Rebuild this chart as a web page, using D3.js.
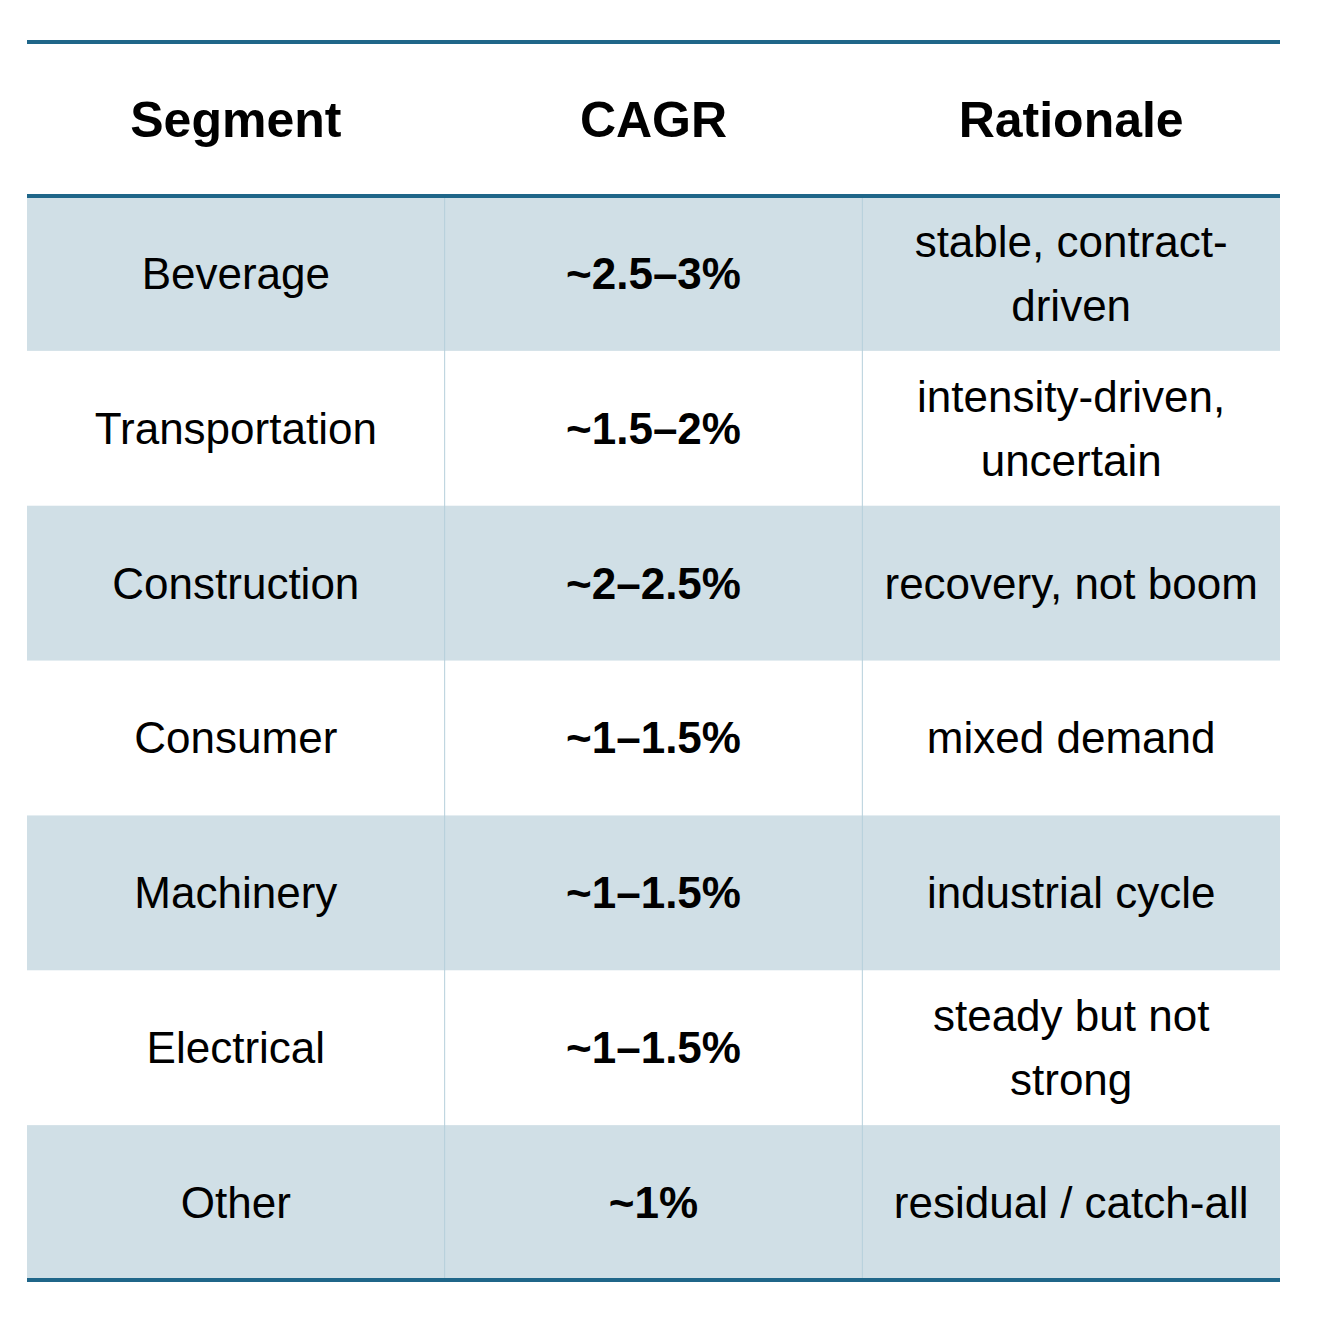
<!DOCTYPE html>
<html><head><meta charset="utf-8">
<script src="https://cdn.jsdelivr.net/npm/d3@7"></script>
<style>body{margin:0;background:#fff}</style>
</head><body><div class="canvas"></div>
<script>
const headers = ['Segment', 'CAGR', 'Rationale'];
const segments = ['Beverage', 'Transportation', 'Construction', 'Consumer', 'Machinery', 'Electrical', 'Other'];
const cagr = ['~2.5–3%', '~1.5–2%', '~2–2.5%', '~1–1.5%', '~1–1.5%', '~1–1.5%', '~1%'];
const rationale = [
    ['stable, contract-', 'driven'],
    ['intensity-driven,', 'uncertain'],
    ['recovery, not boom'],
    ['mixed demand'],
    ['industrial cycle'],
    ['steady but not', 'strong'],
    ['residual / catch-all']
];

const dim = { width: 1322, height: 1322, left: 27, right: 1280, top: 42, head: 196, bottom: 1280 };
const lineColor = '#1f6689';

const svg = d3.select('.canvas').append('svg')
    .attr('width', dim.width)
    .attr('height', dim.height)
    .style('font-family', '"Liberation Sans", Arial, sans-serif');

const x = d3.scaleBand().domain(headers).range([dim.left, dim.right]);
const y = d3.scaleBand().domain(segments).range([dim.head, dim.bottom]);

// shaded rows
svg.selectAll('rect.row')
    .data(segments.filter((d, i) => i % 2 === 0))
    .enter().append('rect')
    .attr('x', dim.left).attr('width', dim.right - dim.left)
    .attr('y', d => y(d)).attr('height', y.bandwidth())
    .attr('fill', '#d0dfe6');

// column separators
svg.selectAll('line.sep')
    .data(headers.slice(1))
    .enter().append('line')
    .attr('x1', d => x(d)).attr('x2', d => x(d))
    .attr('y1', dim.head).attr('y2', dim.bottom)
    .attr('stroke', '#b5cfdb').attr('stroke-width', 1);

// header
svg.selectAll('text.head')
    .data(headers)
    .enter().append('text')
    .attr('x', d => x(d) + x.bandwidth() / 2)
    .attr('y', (dim.top + dim.head) / 2)
    .attr('dy', '0.35em')
    .attr('text-anchor', 'middle')
    .attr('font-size', 50).attr('font-weight', 'bold').attr('fill', '#000')
    .text(d => d);

const rows = svg.selectAll('g.row')
    .data(segments)
    .enter().append('g')
    .attr('transform', d => `translate(0, ${y(d) + y.bandwidth() / 2})`);

rows.append('text')
    .attr('x', x('Segment') + x.bandwidth() / 2)
    .attr('dy', '0.35em').attr('text-anchor', 'middle')
    .attr('font-size', 44).text(d => d);

rows.append('text')
    .attr('x', x('CAGR') + x.bandwidth() / 2)
    .attr('dy', '0.35em').attr('text-anchor', 'middle')
    .attr('font-size', 44).attr('font-weight', 'bold')
    .text((d, i) => cagr[i]);

rows.each(function (d, i) {
    const lines = rationale[i];
    d3.select(this).selectAll('text.rat')
        .data(lines)
        .enter().append('text')
        .attr('x', x('Rationale') + x.bandwidth() / 2)
        .attr('y', (l, j) => (j - (lines.length - 1) / 2) * 64)
        .attr('dy', '0.35em').attr('text-anchor', 'middle')
        .attr('font-size', 44).text(l => l);
});

// rule lines
svg.selectAll('line.rule')
    .data([dim.top, dim.head, dim.bottom])
    .enter().append('line')
    .attr('x1', dim.left).attr('x2', dim.right)
    .attr('y1', d => d).attr('y2', d => d)
    .attr('stroke', lineColor).attr('stroke-width', 4);
</script>
</body></html>
